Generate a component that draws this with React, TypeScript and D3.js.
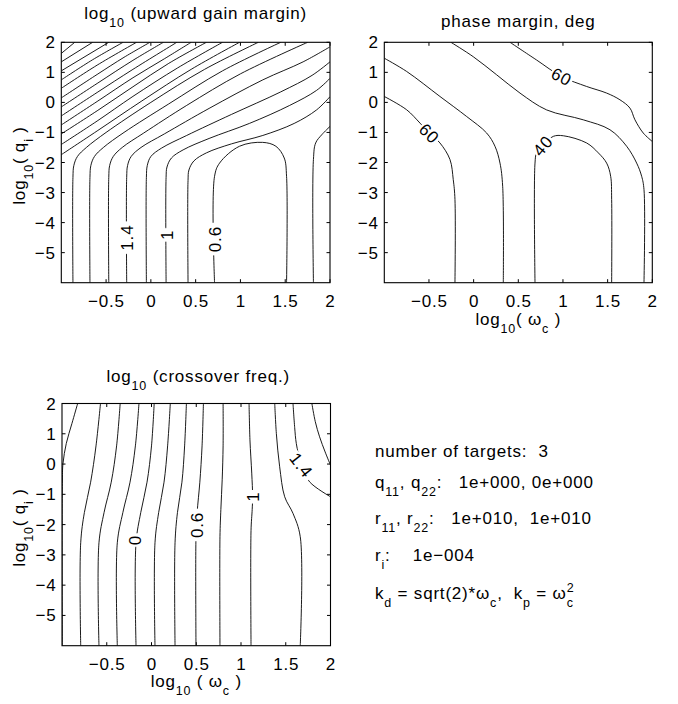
import * as d3 from "d3";
import React from "react";

const FONT = "'Liberation Sans', Arial, Helvetica, sans-serif";

const xDomain = [-1, 2];
const yDomain = [-6, 2];
const xTicks = [-0.5, 0, 0.5, 1, 1.5, 2];
const yTicks = [-5, -4, -3, -2, -1, 0, 1, 2];

// contour lines, points are [log10(wc), log10(qi)]
const gainLines = [
  [[-1, 1.63], [-0.85, 2]],
  [[-1, 1.35], [-0.65, 2]],
  [[-1, 1.05], [-0.47, 2]],
  [[-1, 0.75], [-0.65, 1.42], [-0.31, 2]],
  [[-1, 0.47], [-0.6, 1.24], [-0.16, 2]],
  [[-1, 0.15], [-0.6, 0.93], [-0.3, 1.5], [-0.01, 2]],
  [[-1, -0.15], [-0.6, 0.63], [-0.2, 1.4], [0.14, 2]],
  [[-1, -0.45], [-0.6, 0.33], [-0.2, 1.1], [0.29, 2]],
  [[-1, -0.75], [-0.6, 0.03], [-0.2, 0.82], [0.15, 1.45], [0.45, 2]],
  [[-1, -1.05], [-0.6, -0.28], [-0.2, 0.52], [0.2, 1.3], [0.62, 2]],
  [[-1, -1.4], [-0.6, -0.62], [-0.2, 0.2], [0.3, 1.15], [0.8, 2]],
  [[-1, -1.74], [-0.6, -0.95], [-0.1, 0.05], [0.45, 1.1], [0.99, 2]],
  [[-0.87, -6], [-0.87, -2.5], [-0.86, -2.1], [-0.82, -1.8], [-0.72, -1.5], [-0.5, -1.0], [0, 0], [0.6, 1.1], [1.2, 2]],
  [[-0.68, -6], [-0.68, -2.5], [-0.67, -2.1], [-0.63, -1.8], [-0.53, -1.5], [-0.3, -1.0], [0.2, -0.05], [0.8, 1.05], [1.45, 2]],
  [[-0.47, -6], [-0.47, -2.5], [-0.46, -2.1], [-0.42, -1.8], [-0.32, -1.5], [-0.08, -1.02], [0.4, -0.1], [1.0, 0.95], [1.75, 2]],
  [[-0.27, -6], [-0.27, -2.5], [-0.26, -2.1], [-0.22, -1.8], [-0.11, -1.5], [0.15, -1.05], [0.65, -0.2], [1.25, 0.75], [1.7, 1.35], [2, 1.85]],
  [[-0.05, -6], [-0.05, -2.5], [-0.04, -2.1], [0, -1.8], [0.12, -1.52], [0.4, -1.1], [0.9, -0.4], [1.45, 0.35], [1.8, 0.9], [2, 1.35]],
  [[0.17, -6], [0.17, -2.5], [0.18, -2.15], [0.23, -1.85], [0.36, -1.58], [0.65, -1.2], [1.1, -0.7], [1.55, -0.1], [1.85, 0.4], [2, 0.8]],
  [[0.415, -6], [0.415, -2.6], [0.425, -2.25], [0.48, -1.95], [0.62, -1.68], [0.9, -1.38], [1.25, -1.1], [1.6, -0.7], [1.85, -0.25], [2, 0.19]],
  [[0.711, -6], [0.711, -2.46], [0.767, -2.02], [0.989, -1.46], [1.248, -1.33], [1.396, -1.46], [1.489, -1.85], [1.515, -2.46], [1.515, -6]],
  [[1.815, -6], [1.815, -1.9], [1.84, -1.35], [1.907, -1.08], [2, -0.8]],
];
const gainLabels = [
  { text: "1.4", x: -0.27, y: -4.5, angle: -90 },
  { text: "1", x: 0.176, y: -4.41, angle: -90 },
  { text: "0.6", x: 0.715, y: -4.55, angle: -90 },
];

const phaseLines = [
  [[-1, 0.197], [-0.75, -0.245], [-0.6, -0.69], [-0.496, -1.02], [-0.377, -1.35], [-0.265, -1.9], [-0.228, -2.57], [-0.209, -3.23], [-0.209, -6]],
  [[-1, 1.47], [-0.75, 1.03], [-0.377, 0.197], [-0.078, -0.47], [0.146, -1.02], [0.239, -1.46], [0.295, -2.02], [0.325, -2.79], [0.332, -6]],
  [[-0.254, 2], [-0.004, 1.52], [0.257, 0.92], [0.519, 0.31], [0.817, -0.25], [1.228, -0.58], [1.526, -0.91], [1.713, -1.46], [1.825, -2.02], [1.881, -2.46], [1.907, -2.9], [1.907, -6]],
  [[0.407, 2], [0.705, 1.41], [0.985, 0.86], [1.265, 0.53], [1.489, 0.31], [1.638, 0.086], [1.75, -0.19], [1.806, -0.58], [1.899, -1.02], [2, -1.3]],
  [[0.687, -6], [0.687, -2.02], [0.705, -1.68], [0.78, -1.41], [0.892, -1.13], [1.004, -1.11], [1.265, -1.35], [1.396, -1.68], [1.489, -2.02], [1.534, -2.46], [1.545, -3.23], [1.545, -6]],
];
const phaseLabels = [
  { text: "60", x: -0.496, y: -1.03, angle: 45 },
  { text: "60", x: 0.986, y: 0.855, angle: 28 },
  { text: "40", x: 0.773, y: -1.44, angle: -50 },
];

const freqLines = [
  [[-0.825, 2], [-0.889, 1.34], [-0.952, 0.68], [-0.989, 0.02], [-0.996, -0.64], [-0.997, -6]],
  [[-0.791, -6], [-0.791, -2.6], [-0.75, -1.6], [-0.68, -0.6], [-0.62, 0.6], [-0.57, 2]],
  [[-0.587, -6], [-0.587, -2.6], [-0.53, -1.6], [-0.45, -0.6], [-0.39, 0.6], [-0.35, 2]],
  [[-0.382, -6], [-0.382, -2.6], [-0.32, -1.6], [-0.24, -0.6], [-0.18, 0.6], [-0.14, 2]],
  [[-0.173, -6], [-0.173, -2.6], [-0.12, -1.6], [-0.05, -0.6], [0, 0.6], [0.03, 2]],
  [[0.039, -6], [0.039, -2.6], [0.08, -1.6], [0.14, -0.6], [0.18, 0.6], [0.21, 2]],
  [[0.263, -6], [0.263, -2.6], [0.29, -1.6], [0.34, -0.6], [0.37, 0.6], [0.39, 2]],
  [[0.497, -6], [0.497, -2.4], [0.51, -1.6], [0.54, -0.6], [0.565, 0.6], [0.58, 2]],
  [[0.765, -6], [0.765, -2.4], [0.775, -1.5], [0.79, -0.5], [0.8, 0.6], [0.8, 2]],
  [[1.112, -6], [1.112, -2.2], [1.125, -1.5], [1.13, -1.08], [1.12, -0.3], [1.1, 0.8], [1.09, 2]],
  [[1.662, -6], [1.662, -2.4], [1.581, -1.63], [1.488, -1.08], [1.432, -0.09], [1.395, 1.01], [1.377, 2]],
  [[1.581, 2], [1.6, 1.2], [1.618, 0.68], [1.674, -0.035], [1.767, -0.59], [2, -1.08]],
  [[1.792, 2], [1.83, 1.4], [1.878, 0.9], [1.94, 0.4], [2, -0.035]],
];
const freqLabels = [
  { text: "0", x: -0.184, y: -2.51, angle: -90 },
  { text: "0.6", x: 0.505, y: -2.01, angle: -90 },
  { text: "1", x: 1.13, y: -1.08, angle: -90 },
  { text: "1.4", x: 1.674, y: -0.035, angle: 52 },
];

const textStyle = { fontFamily: FONT, fontSize: 17, letterSpacing: 0.8, whiteSpace: "pre" };
const SUB = 12.5;
const SHIFT = 8;

function fmt(t) {
  return t < 0 ? "\u2212" + Math.abs(t) : String(t);
}

// parts: plain strings, or ["_", s] for subscript, ["^", s] for superscript stacked on the previous subscript
function Rich({ parts, ...props }) {
  let level = 0;
  const spans = parts.map((p, i) => {
    if (typeof p === "string") {
      const dy = -level;
      level = 0;
      return (
        <tspan key={i} dy={dy || undefined}>
          {p}
        </tspan>
      );
    }
    if (p[0] === "_") {
      const dy = SHIFT - level;
      level = SHIFT;
      return (
        <tspan key={i} dy={dy || undefined} fontSize={SUB}>
          {p[1]}
        </tspan>
      );
    }
    const dy = -7 - level;
    level = -7;
    return (
      <tspan key={i} dx={-7} dy={dy} fontSize={SUB}>
        {p[1]}
      </tspan>
    );
  });
  return (
    <text style={textStyle} {...props}>
      {spans}
    </text>
  );
}

function Panel({ left, top, width, height, lines, labels, id }) {
  const x = d3.scaleLinear().domain(xDomain).range([left, left + width]);
  const y = d3.scaleLinear().domain(yDomain).range([top + height, top]);
  const line = d3
    .line()
    .x((d) => x(d[0]))
    .y((d) => y(d[1]))
    .curve(d3.curveCatmullRom.alpha(0.5));
  const tick = 3.5;

  return (
    <g>
      <defs>
        <clipPath id={id}>
          <rect x={left} y={top} width={width} height={height} />
        </clipPath>
      </defs>
      <g clipPath={`url(#${id})`}>
        {lines.map((pts, i) => (
          <path key={i} d={line(pts)} fill="none" stroke="#000" strokeWidth={0.9} />
        ))}
        {labels.map((l, i) => (
          <g key={i} transform={`translate(${x(l.x)},${y(l.y)}) rotate(${l.angle})`}>
            <rect x={-(l.text.length * 9.5 + 4) / 2} y={-6} width={l.text.length * 9.5 + 4} height={12} fill="#fff" />
            <text textAnchor="middle" dy="0.36em" style={textStyle}>
              {l.text}
            </text>
          </g>
        ))}
      </g>
      {xTicks.map((t) => (
        <g key={"x" + t}>
          <line x1={x(t)} x2={x(t)} y1={top + height} y2={top + height - tick} stroke="#000" />
          <line x1={x(t)} x2={x(t)} y1={top} y2={top + tick} stroke="#000" />
          <text x={x(t) + 0.4} y={top + height + 24} textAnchor="middle" style={textStyle}>
            {fmt(t)}
          </text>
        </g>
      ))}
      {yTicks.map((t) => (
        <g key={"y" + t}>
          <line x1={left} x2={left + tick} y1={y(t)} y2={y(t)} stroke="#000" />
          <line x1={left + width} x2={left + width - tick} y1={y(t)} y2={y(t)} stroke="#000" />
          <text x={left - 5.5} y={y(t) + 6} textAnchor="end" style={textStyle}>
            {fmt(t)}
          </text>
        </g>
      ))}
      <rect x={left} y={top} width={width} height={height} fill="none" stroke="#000" strokeWidth={1.1} />
    </g>
  );
}

export default function App() {
  const p1 = { left: 61.3, top: 42.3, width: 268.7, height: 240.4 };
  const p2 = { left: 384.3, top: 42.3, width: 268, height: 240.4 };
  const p3 = { left: 62, top: 403.5, width: 268.5, height: 242.2 };
  const tx = 375;
  const yLab = ["log", ["_", "10"], "( q", ["_", "i"], " )"];

  return (
    <svg width={678} height={704} style={{ position: "absolute", left: 0, top: 0, background: "#fff" }}>
      <rect width={678} height={704} fill="#fff" />
      <Panel {...p1} lines={gainLines} labels={gainLabels} id="c1" />
      <Panel {...p2} lines={phaseLines} labels={phaseLabels} id="c2" />
      <Panel {...p3} lines={freqLines} labels={freqLabels} id="c3" />

      <Rich x={p1.left + p1.width / 2} y={18.5} textAnchor="middle" parts={["log", ["_", "10"], " (upward gain margin)"]} />
      <Rich x={p2.left + p2.width / 2} y={27} textAnchor="middle" parts={["phase margin, deg"]} />
      <Rich x={p3.left + p3.width / 2 + 2} y={381.5} textAnchor="middle" parts={["log", ["_", "10"], " (crossover freq.)"]} />

      <Rich transform={`translate(25,${p1.top + p1.height / 2 + 3})rotate(-90)`} textAnchor="middle" parts={yLab} />
      <Rich transform={`translate(25,${p3.top + p3.height / 2 + 3})rotate(-90)`} textAnchor="middle" parts={yLab} />

      <Rich x={p2.left + p2.width / 2} y={325} textAnchor="middle" parts={["log", ["_", "10"], "( ω", ["_", "c"], " )"]} />
      <Rich x={p3.left + p3.width / 2} y={687} textAnchor="middle" parts={["log", ["_", "10"], " ( ω", ["_", "c"], " )"]} />

      <Rich x={tx} y={457} parts={["number of targets:  3"]} />
      <Rich x={tx} y={488} parts={["q", ["_", "11"], ", q", ["_", "22"], ":   1e+000, 0e+000"]} />
      <Rich x={tx} y={524} parts={["r", ["_", "11"], ", r", ["_", "22"], ":   1e+010,  1e+010"]} />
      <Rich x={tx} y={561} parts={["r", ["_", "i"], ":    1e\u2212004"]} />
      <Rich
        x={tx}
        y={599}
        parts={["k", ["_", "d"], " = sqrt(2)*ω", ["_", "c"], ",  k", ["_", "p"], " = ω", ["_", "c"], ["^", "2"]]}
      />
    </svg>
  );
}
